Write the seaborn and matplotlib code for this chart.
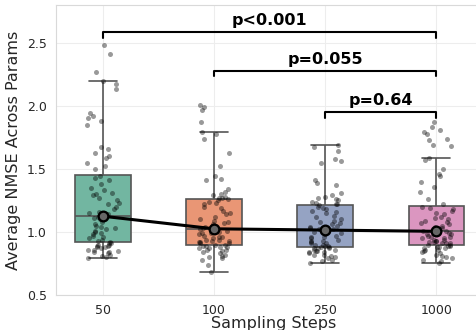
import numpy as np
import pandas as pd
import matplotlib
matplotlib.use('Agg')
import matplotlib.pyplot as plt
import seaborn as sns

STEPS = ['50', '100', '250', '1000']

NMSE_50 = [2.48, 2.41, 2.27, 2.20, 2.17, 2.13, 1.94, 1.92, 1.90, 1.88, 1.85, 1.67, 1.66, 1.63, 1.60, 1.59, 1.55, 1.52, 1.50,
           1.44, 1.43, 1.41, 1.38, 1.35, 1.33, 1.31, 1.30, 1.29, 1.27, 1.25, 1.23, 1.22, 1.20, 1.18, 1.16, 1.15, 1.14, 1.13,
           1.12, 1.11, 1.10, 1.08, 1.06, 1.05, 1.04, 1.03, 1.02, 1.01, 1.00, 0.99, 0.98, 0.97, 0.96, 0.95, 0.94, 0.93, 0.92,
           0.91, 0.91, 0.90, 0.90, 0.89, 0.89, 0.88, 0.88, 0.87, 0.86, 0.86, 0.85, 0.84, 0.84, 0.83, 0.82, 0.81, 0.80, 0.79]
NMSE_100 = [2.01, 1.99, 1.97, 1.87, 1.79, 1.78, 1.74, 1.63, 1.52, 1.44, 1.42, 1.41, 1.34, 1.32, 1.30, 1.29, 1.28, 1.27, 1.27,
            1.26, 1.25, 1.24, 1.23, 1.22, 1.20, 1.19, 1.17, 1.15, 1.14, 1.12, 1.10, 1.09, 1.08, 1.07, 1.06, 1.05, 1.04, 1.03,
            1.02, 1.01, 1.00, 0.99, 0.99, 0.98, 0.97, 0.96, 0.96, 0.95, 0.94, 0.94, 0.93, 0.93, 0.92, 0.92, 0.91, 0.91, 0.90,
            0.90, 0.89, 0.89, 0.88, 0.88, 0.87, 0.87, 0.86, 0.86, 0.85, 0.84, 0.83, 0.82, 0.81, 0.80, 0.79, 0.78, 0.74, 0.68]
NMSE_250 = [1.69, 1.67, 1.64, 1.58, 1.56, 1.55, 1.41, 1.39, 1.37, 1.31, 1.29, 1.28, 1.27, 1.26, 1.25, 1.24, 1.23, 1.22, 1.22,
            1.21, 1.20, 1.19, 1.18, 1.17, 1.16, 1.15, 1.13, 1.12, 1.10, 1.09, 1.08, 1.07, 1.06, 1.05, 1.04, 1.03, 1.02, 1.02,
            1.01, 1.00, 0.99, 0.98, 0.97, 0.96, 0.96, 0.95, 0.94, 0.93, 0.93, 0.92, 0.91, 0.91, 0.90, 0.90, 0.89, 0.89, 0.88,
            0.88, 0.87, 0.87, 0.87, 0.86, 0.86, 0.85, 0.85, 0.84, 0.84, 0.83, 0.82, 0.82, 0.81, 0.80, 0.79, 0.78, 0.77, 0.75]
NMSE_1000 = [1.87, 1.83, 1.81, 1.79, 1.78, 1.74, 1.73, 1.69, 1.68, 1.59, 1.57, 1.50, 1.46, 1.44, 1.40, 1.36, 1.32, 1.26, 1.22,
             1.20, 1.19, 1.18, 1.17, 1.15, 1.14, 1.12, 1.11, 1.10, 1.09, 1.08, 1.07, 1.06, 1.05, 1.04, 1.03, 1.02, 1.01, 1.01,
             1.00, 0.99, 0.98, 0.98, 0.97, 0.96, 0.96, 0.95, 0.95, 0.94, 0.94, 0.93, 0.93, 0.92, 0.92, 0.91, 0.91, 0.91, 0.90,
             0.90, 0.89, 0.89, 0.88, 0.88, 0.87, 0.87, 0.86, 0.86, 0.85, 0.84, 0.83, 0.82, 0.81, 0.80, 0.79, 0.78, 0.77, 0.75]

# pairs compared and their p-values (from idx, to idx, label)
COMPARISONS = [(0, 3, 'p<0.001'), (1, 3, 'p=0.055'), (2, 3, 'p=0.64')]
BRACKET_Y = [2.587, 2.278, 1.952]

rows = []
for step, vals in zip(STEPS, [NMSE_50, NMSE_100, NMSE_250, NMSE_1000]):
    rows += [(step, v) for v in vals]
df = pd.DataFrame(rows, columns=['steps', 'nmse'])

sns.set_style('whitegrid', {'grid.color': '.93', 'axes.edgecolor': '.85'})
plt.rcParams['font.family'] = ['DejaVu Sans']

fig = plt.figure(figsize=(4.77, 3.30), dpi=100)
ax = fig.add_axes([56 / 477, 35 / 330, 436 / 477, 290 / 330])

sns.boxplot(data=df, x='steps', y='nmse', order=STEPS, hue='steps', hue_order=STEPS,
            palette='Set2', width=0.5, showfliers=False, linecolor='#555555',
            linewidth=1.2, legend=False, ax=ax)
np.random.seed(3)
sns.stripplot(data=df, x='steps', y='nmse', order=STEPS, color='black', alpha=0.4,
              size=3.6, jitter=0.15, ax=ax, zorder=3)
sns.pointplot(data=df, x='steps', y='nmse', order=STEPS, estimator='median', errorbar=None,
              color='black', markers='o', markersize=7, linewidth=2.2, ax=ax)
ax.lines[-1].set_markerfacecolor('#666666')
ax.lines[-1].set_markeredgecolor('black')
ax.lines[-1].set_zorder(5)

for (i, j, label), y in zip(COMPARISONS, BRACKET_Y):
    ax.plot([i, i, j, j], [y - 0.045, y, y, y - 0.045], color='black', lw=1.5, zorder=6)
    ax.text((i + j) / 2, y + 0.03, label, ha='center', va='bottom',
            fontsize=11.5, fontweight='bold', color='black')

ax.set_xlim(-0.42, 3.5)
ax.set_ylim(0.5, 2.8)
ax.set_yticks([0.5, 1.0, 1.5, 2.0, 2.5])
ax.set_xlabel('Sampling Steps', fontsize=11.5, labelpad=-1)
ax.set_ylabel('Average NMSE Across Params', fontsize=11.5)
ax.tick_params(labelsize=9, pad=3)
ax.grid(True, axis='both')

fig.savefig('out.png', dpi=100)
